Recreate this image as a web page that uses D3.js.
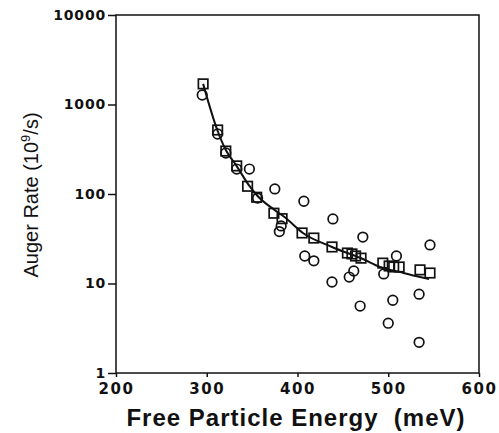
<!DOCTYPE html>
<html>
<head>
<meta charset="utf-8">
<script src="https://cdn.jsdelivr.net/npm/d3@7/dist/d3.min.js"></script>
<style>
  html, body { margin: 0; padding: 0; background: #fff; }
  svg { display: block; }
</style>
</head>
<body>
<svg id="chart" width="499" height="433"></svg>
<script>
// Squares (model values)
const squareEnergy = [296, 312, 321, 333, 345, 355, 374, 383, 405, 418, 438, 455, 460, 464, 470, 494, 501, 506, 512, 535, 546];
const squareRate   = [1700, 519, 302, 206, 122, 92, 61, 53, 36.7, 32.2, 25.6, 21.9, 21.4, 20.3, 19.2, 16.9, 15.7, 15.3, 15.3, 14.2, 13.1];
// Circles (scattered values)
const circleEnergy = [295, 312, 321, 333, 347, 356, 375, 380, 382, 407, 408, 418, 438, 439, 457, 462, 469, 472, 495, 500, 505, 509, 534, 534, 546];
const circleRate   = [1277, 468, 287, 190, 190, 90, 114, 38, 44, 83, 20.3, 17.9, 10.4, 52.7, 11.8, 13.8, 5.6, 33, 12.8, 3.6, 6.5, 20.3, 7.6, 2.2, 27];
// Fitted curve
const lineEnergy = [296, 312, 321, 333, 347, 356, 375, 386, 406, 438, 472, 491, 513, 535, 545];
const lineRate   = [1700, 506, 310, 205, 123, 95, 66, 55, 36.7, 25.6, 18.8, 15.3, 13.4, 11.8, 11.2];
// Ticks
const xTicks = [200, 300, 400, 500, 600];
const yTicks = [1, 10, 100, 1000, 10000];
const yTickLabels = ["1", "10", "100", "1000", "10000"];

const svg = d3.select("#chart");
const x = d3.scaleLinear().domain([200, 600]).range([116, 479]);
const y = d3.scaleLog().domain([1, 10000]).range([373, 15]);

// frame
svg.append("rect")
  .attr("x", x(200)).attr("y", y(10000))
  .attr("width", x(600) - x(200)).attr("height", y(1) - y(10000))
  .attr("fill", "none").attr("stroke", "#111").attr("stroke-width", 1.5);

// axes
const xAxis = d3.axisBottom(x).tickValues(xTicks).tickSize(4).tickFormat(d3.format("d"));
const gx = svg.append("g").attr("transform", `translate(0,${y(1)})`).call(xAxis);
gx.select(".domain").remove();
gx.selectAll("line").attr("stroke", "#111").attr("stroke-width", 1.5);
gx.selectAll("text")
  .attr("font-family", "'DejaVu Sans', sans-serif").attr("font-weight", "bold")
  .attr("font-size", 15).attr("letter-spacing", "1.5px").attr("fill", "#111")
  .attr("dy", "0.9em");

const yAxis = d3.axisLeft(y).tickValues(yTicks).tickSize(8).tickFormat((d, i) => yTickLabels[i]);
const gy = svg.append("g").attr("transform", `translate(${x(200)},0)`).call(yAxis);
gy.select(".domain").remove();
gy.selectAll("line").attr("stroke", "#111").attr("stroke-width", 1.5);
gy.selectAll("text")
  .attr("font-family", "'DejaVu Sans', sans-serif").attr("font-weight", "bold")
  .attr("font-size", 14).attr("letter-spacing", "0.8px").attr("fill", "#111")
  .attr("x", -10);

// line
const line = d3.line()
  .x((d, i) => x(lineEnergy[i]))
  .y((d, i) => y(lineRate[i]))
  .curve(d3.curveMonotoneX);
svg.append("path").datum(lineEnergy)
  .attr("d", line).attr("fill", "none").attr("stroke", "#111").attr("stroke-width", 2);

// circles
svg.append("g").selectAll("circle").data(circleEnergy).join("circle")
  .attr("cx", (d) => x(d)).attr("cy", (d, i) => y(circleRate[i]))
  .attr("r", 4.8).attr("fill", "none").attr("stroke", "#111").attr("stroke-width", 1.7);

// squares
const s = 9.5;
svg.append("g").selectAll("rect").data(squareEnergy).join("rect")
  .attr("x", (d) => x(d) - s / 2).attr("y", (d, i) => y(squareRate[i]) - s / 2)
  .attr("width", s).attr("height", s)
  .attr("fill", "none").attr("stroke", "#111").attr("stroke-width", 1.7);

// axis titles
svg.append("text")
  .attr("x", 296).attr("y", 426).attr("text-anchor", "middle")
  .attr("font-family", "'Liberation Sans', Arial, sans-serif").attr("font-weight", "bold")
  .attr("font-size", 24).attr("fill", "#111")
  .attr("letter-spacing", "1px")
  .text("Free Particle Energy\u00A0\u00A0(meV)");

const yl = svg.append("text")
  .attr("transform", "translate(38,195) rotate(-90)")
  .attr("text-anchor", "middle")
  .attr("font-family", "'Liberation Sans', Arial, sans-serif")
  .attr("font-size", 20).attr("fill", "#111");
yl.append("tspan").text("Auger Rate (10");
yl.append("tspan").attr("font-size", 13).attr("dy", -8).text("9");
yl.append("tspan").attr("dy", 8).text("/s)");
</script>
</body>
</html>
